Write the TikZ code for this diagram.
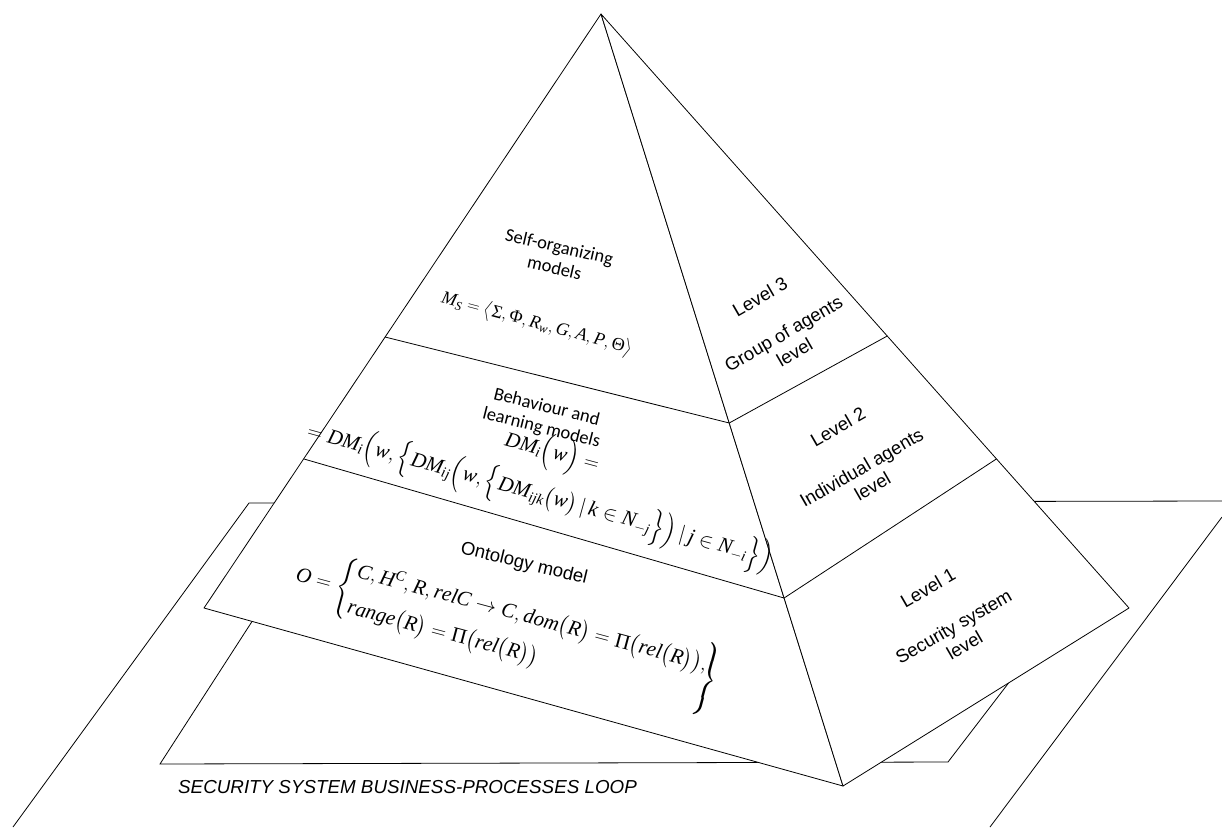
\documentclass[tikz,border=0pt]{standalone}
\usepackage{amsmath}
\usepackage{fontspec}
\setmainfont{Liberation Serif}
\newfontfamily\arialf{Liberation Sans}
\newfontfamily\calibrif{Carlito}
\usetikzlibrary{calc}
% italic letters of the formulas in the serif text face
\newcommand\mv[1]{\mathit{#1}}
\newcommand\gr[1]{\text{\upshape #1}}

\begin{document}
\begin{tikzpicture}[x=1pt,y=-1pt,
  edge/.style={line width=0.8pt},
  face/.style={fill=white, draw=black, line width=0.8pt, line join=round},
  facetext/.style={font=\arialf\fontsize{18.5}{22}\selectfont, align=center, inner sep=0pt},
  calib/.style={font=\calibrif\fontsize{18.5}{21.5}\selectfont, align=center, inner sep=0pt},
  formula/.style={inner sep=0pt, font=\fontsize{21}{25}\selectfont},
]
\useasboundingbox (0,0) rectangle (1222,827);

% large ground plane
\coordinate (olb) at (13,827);
\coordinate (olt) at (249,503);
\coordinate (ort) at (1222,501);
\coordinate (orb) at (990,827);
\coordinate (orr) at (1222,517);
\draw[edge] (olb) -- (olt) -- (ort);
\draw[edge] (orb) -- (orr);

% smaller plane below it
\coordinate (gtl) at (262,606);
\coordinate (gbl) at (160,764);
\coordinate (gbr) at (948,762);
\coordinate (gtr) at (1030,655);
\draw[edge] (gtl) -- (gbl) -- (gbr) -- (gtr);

% pyramid
\coordinate (A) at (601,14);
\coordinate (L) at (204,608);
\coordinate (M) at (843,786);
\coordinate (R) at (1129,608);
\draw[face] (A) -- (L) -- (M) -- cycle;
\draw[face] (A) -- (M) -- (R) -- cycle;

% level separators
\coordinate (l1) at ($(A)!0.5438!(L)$);
\coordinate (m1) at ($(A)!0.5298!(M)$);
\coordinate (r1) at ($(A)!0.5421!(R)$);
\coordinate (l2) at ($(A)!0.749!(L)$);
\coordinate (m2) at ($(A)!0.7565!(M)$);
\coordinate (r2) at ($(A)!0.749!(R)$);
\draw[edge] (l1) -- (m1) -- (r1);
\draw[edge] (l2) -- (m2) -- (r2);

% models on the front face
\node[calib, rotate=-13] (selforg) at (557,257) {Self-organizing\\models};
\node[formula, font=\fontsize{18}{22}\selectfont, rotate=-15] (ms) at (537,324)
  {$\mv{M}_{\mv{S}}=\bigl\langle\gr{Σ},\gr{Φ},\mv{R}_{\mv{w}},\mv{G},\mv{A},\mv{P},\gr{Θ}\bigr\rangle$};

\node[calib, rotate=-14] (behav) at (544,418) {Behaviour and\\learning models};
\node[formula, rotate=-15] (dm1) at (552,453) {$\mv{DM}_{\mv{i}}\Bigl(\mv{w}\Bigr)=$};
\node[formula, rotate=-15.5] (dm2) at (540,496)
  {$=\mv{DM}_{\mv{i}}\Bigl(\mv{w},\Bigl\{\mv{DM}_{\mv{ij}}\Bigl(\mv{w},\Bigl\{\mv{DM}_{\mv{ijk}}\bigl(\mv{w}\bigr)\,|\,\mv{k}\in \mv{N}_{-\mv{j}}\Bigr\}\Bigr)\,|\,\mv{j}\in \mv{N}_{-\mv{i}}\Bigr\}\Bigr)$};

\node[facetext, rotate=-13.5] (onto) at (524,564) {Ontology model};
\node[formula, rotate=-15, anchor=west] (ofm) at (296,575)
  {$\mv{O}=\left\{\begin{array}{@{}l@{}}
     \mv{C},\mv{H}^{\mv{C}},\mv{R},\mv{relC}\to \mv{C},\mv{dom}\bigl(\mv{R}\bigr)=\gr{Π}\bigl(\mv{rel}\bigl(\mv{R}\bigr)\bigr),\\[12pt]
     \mv{range}\bigl(\mv{R}\bigr)=\gr{Π}\bigl(\mv{rel}\bigl(\mv{R}\bigr)\bigr)
   \end{array}\right.$};
\node[formula, rotate=-15] (obr) at (707,681)
  {$\left.\vrule height 34pt depth 34pt width 0pt\right\}$};

% levels on the side face
\node[facetext, rotate=30] (lv3) at (760,297) {Level 3};
\node[facetext, rotate=30] (grp) at (789,343) {Group of agents\\level};
\node[facetext, rotate=30] (lv2) at (838,427) {Level 2};
\node[facetext, rotate=30] (ind) at (867,477) {Individual agents\\level};
\node[facetext, rotate=30] (lv1) at (928,588) {Level 1};
\node[facetext, rotate=30] (sec) at (959,636) {Security system\\level};

% caption of the loop
\node[font=\arialf\itshape\fontsize{18.8}{22}\selectfont, anchor=base west, inner sep=0pt]
  (loop) at (178,793) {SECURITY SYSTEM BUSINESS-PROCESSES LOOP};
\end{tikzpicture}
\end{document}
